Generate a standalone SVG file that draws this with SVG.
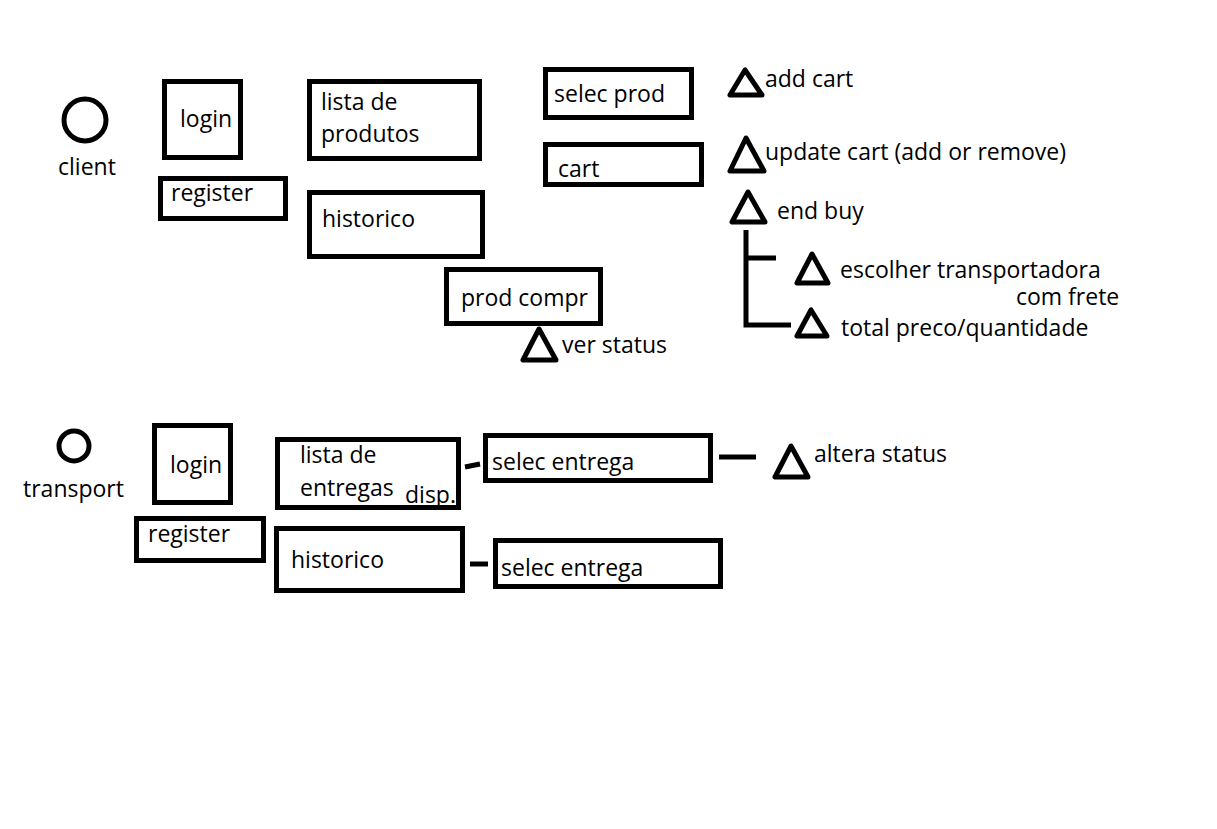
<svg xmlns="http://www.w3.org/2000/svg" width="1217" height="829" viewBox="0 0 1217 829">
<style>
.b{fill:none;stroke:#000;stroke-width:5}
.t{fill:none;stroke:#000;stroke-width:5;stroke-linejoin:round}
.l{fill:none;stroke:#000;stroke-width:5}
text{font-family:"Open Sans","Noto Sans",sans-serif;font-size:23px;fill:#000}
</style>
<rect width="1217" height="829" fill="#fff"/>
<g id="client"><circle class="b" cx="85" cy="120" r="21"/><text x="58" y="175">client</text></g>
<g id="c-login"><rect class="b" x="164.5" y="81.5" width="76" height="76"/><text x="180" y="127">login</text></g>
<g id="c-register"><rect class="b" x="160.5" y="178.5" width="125" height="40"/><text x="171" y="201">register</text></g>
<g id="c-lista"><rect class="b" x="309.5" y="81.5" width="170" height="77"/><text x="321" y="110">lista de</text><text x="321" y="142">produtos</text></g>
<g id="c-historico"><rect class="b" x="309.5" y="192.5" width="173" height="64"/><text x="322" y="227">historico</text></g>
<g id="c-prodcompr"><rect class="b" x="446.5" y="269.5" width="154" height="54"/><text x="461" y="306">prod compr</text></g>
<g id="c-verstatus"><polygon class="t" points="539,329 523,360 556,360"/><text x="562" y="353">ver status</text></g>
<g id="c-selecprod"><rect class="b" x="545.5" y="69.5" width="146" height="48"/><text x="554" y="102">selec prod</text></g>
<g id="c-cart"><rect class="b" x="545.5" y="144.5" width="156" height="40"/><text x="558" y="177">cart</text></g>
<g id="c-addcart"><polygon class="t" points="745,70 730,95 762,95"/><text x="765" y="87">add cart</text></g>
<g id="c-updatecart"><polygon class="t" points="746,138 730,171 764,171"/><text x="765" y="160">update cart (add or remove)</text></g>
<g id="c-endbuy"><polygon class="t" points="748,192 732,222 765,222"/><text x="777" y="219">end buy</text></g>
<g id="c-escolher"><polygon class="t" points="812,254 797,283 828,283"/><text x="840" y="278">escolher transportadora</text><text x="1016" y="305">com frete</text></g>
<g id="c-total"><polygon class="t" points="811,310 797,336 827,336"/><text x="841" y="336">total preco/quantidade</text></g>
<g id="transport"><circle class="b" cx="74" cy="446" r="15"/><text x="23" y="497">transport</text></g>
<g id="t-login"><rect class="b" x="154.5" y="425.5" width="76" height="77"/><text x="170" y="473">login</text></g>
<g id="t-register"><rect class="b" x="136.5" y="518.5" width="127" height="42"/><text x="148" y="542">register</text></g>
<g id="t-lista"><rect class="b" x="277.5" y="439.5" width="181" height="68"/><text x="300" y="463">lista de</text><text x="300" y="496">entregas</text><text x="405" y="503">disp.</text></g>
<g id="t-historico"><rect class="b" x="276.5" y="528.5" width="186" height="62"/><text x="291" y="568">historico</text></g>
<g id="t-selec1"><rect class="b" x="485.5" y="435.5" width="225" height="45"/><text x="492" y="470">selec entrega</text></g>
<g id="t-selec2"><rect class="b" x="495.5" y="540.5" width="225" height="46"/><text x="501" y="576">selec entrega</text></g>
<g id="t-altera"><polygon class="t" points="791,446 775,477 808,477"/><text x="814" y="462">altera status</text></g>
<g id="connectors">
<path class="l" d="M746,230 V325 H791 M746,258 H776"/>
<path class="l" d="M465,467 L480,464"/>
<path class="l" d="M470,564 H488"/>
<path class="l" d="M719,457 H756"/>
</g>
</svg>
